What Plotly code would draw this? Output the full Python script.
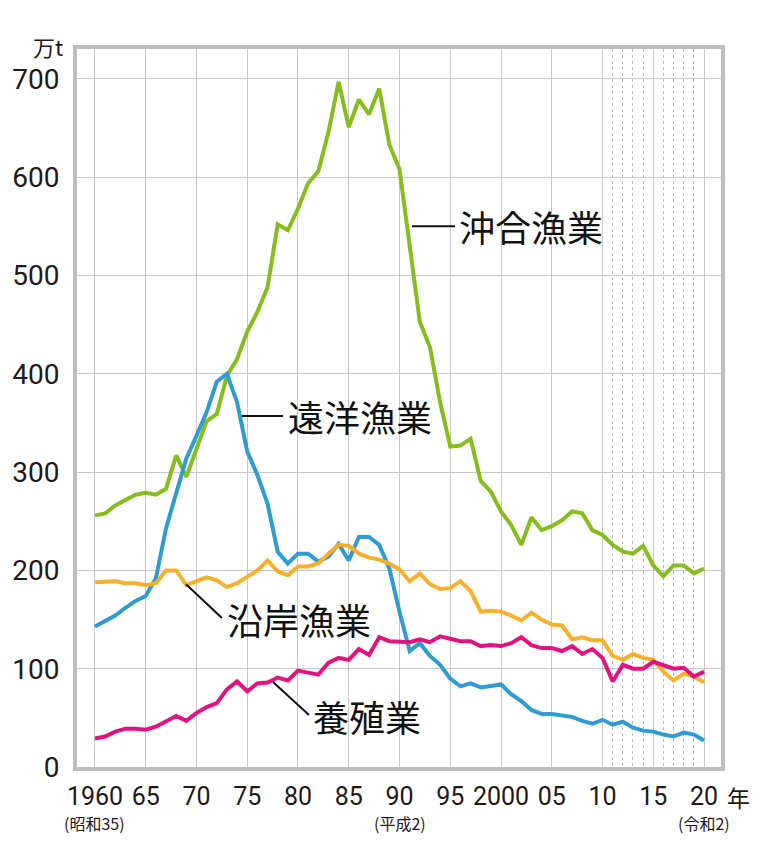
import plotly.graph_objects as go

years = list(range(1960, 2021))

# 沖合漁業 (万t)
offshore = [
    256, 258, 266, 272, 277, 279, 277, 283, 317, 295,
    324, 352, 359, 398, 415, 443, 463, 488, 552, 546,
    568, 594, 606, 646, 697, 651, 679, 664, 690, 633,
    608, 530, 453, 427, 371, 326, 327, 334, 291, 280,
    260, 246, 226, 254, 241, 245, 251, 260, 258, 241,
    236, 226, 219, 217, 225, 205, 194, 205, 205, 197,
    202,
]
# 遠洋漁業
distant = [
    143, 149, 154, 162, 169, 174, 192, 243, 280, 314,
    337, 361, 392, 400, 371, 321, 297, 268, 219, 207,
    217, 217, 209, 214, 227, 210, 234, 234, 226, 202,
    158, 118, 126, 113, 104, 90, 82, 85, 81, 83,
    84, 74, 67, 58, 54, 54, 52, 51, 47, 44,
    48, 43, 46, 40, 37, 36, 33, 31, 35, 33,
    27,
]
# 沿岸漁業
coastal = [
    188, 188, 189, 187, 187, 185, 187, 200, 200, 185,
    189, 193, 190, 183, 187, 194, 200, 210, 199, 195,
    204, 204, 207, 217, 226, 225, 217, 213, 211, 207,
    201, 189, 197, 186, 181, 182, 189, 179, 158, 159,
    158, 154, 149, 157, 150, 145, 144, 130, 132, 129,
    129, 113, 109, 115, 111, 109, 97, 88, 95, 92,
    86,
]
# 養殖業
aquaculture = [
    29, 31, 36, 39, 39, 38, 41, 47, 52, 47,
    55, 61, 65, 79, 87, 77, 85, 86, 91, 88,
    98, 96, 94, 106, 111, 109, 120, 114, 132, 128,
    127, 127, 130, 127, 133, 130, 128, 128, 123, 124,
    123, 126, 132, 124, 121, 121, 118, 123, 115, 120,
    111, 87, 104, 100, 100, 107, 104, 100, 101, 92,
    97,
]

series = [
    ("沖合漁業", offshore, "#86bd1e"),
    ("遠洋漁業", distant, "#2f9bd3"),
    ("沿岸漁業", coastal, "#f6b02c"),
    ("養殖業", aquaculture, "#e2127e"),
]

x_ticks = [1960, 1965, 1970, 1975, 1980, 1985, 1990, 1995, 2000, 2005, 2010, 2015, 2020]
x_text = ["1960", "65", "70", "75", "80", "85", "90", "95", "2000", "05", "10", "15", "20"]
era_labels = [(1960, "(昭和35)"), (1990, "(平成2)"), (2020, "(令和2)")]

# label text position (left edge) and leader line ends, in data units
labels = [
    ("沖合漁業", 1995.7, 550, (1991.23, 550, 1995.47, 550)),
    ("遠洋漁業", 1978.85, 357, (1974.48, 357, 1978.52, 357)),
    ("沿岸漁業", 1972.8, 151, (1968.97, 186, 1972.51, 151.5)),
    ("養殖業", 1981.3, 52, (1977.54, 86.5, 1981.08, 53)),
]

num_font = "Roboto, sans-serif"
jp_font = "Noto Sans CJK JP, sans-serif"
ink = "#231815"

fig = go.Figure()
for name, vals, color in series:
    fig.add_trace(
        go.Scatter(
            x=years,
            y=vals,
            mode="lines",
            name=name,
            line=dict(color=color, width=4),
        )
    )

for name, tx, ty, (x0, y0, x1, y1) in labels:
    fig.add_shape(
        type="line", x0=x0, y0=y0, x1=x1, y1=y1,
        xref="x", yref="y", line=dict(color="#111111", width=2),
    )
    fig.add_annotation(
        x=tx, y=ty, xref="x", yref="y", text=name, showarrow=False,
        xanchor="left", yanchor="middle",
        font=dict(family=jp_font, size=36, color="#111111"),
    )

for yr, txt in era_labels:
    fig.add_annotation(
        x=yr, y=-0.078, xref="x", yref="paper", text=txt, showarrow=False,
        xanchor="center", yanchor="middle",
        font=dict(family=jp_font, size=16, color=ink),
    )

fig.add_annotation(
    x=1, y=-0.042, xref="paper", yref="paper", text="年", showarrow=False,
    xanchor="left", yanchor="middle", xshift=4,
    font=dict(family=jp_font, size=23, color=ink),
)
fig.add_annotation(
    x=0, y=1.004, xref="paper", yref="paper", text="万t", showarrow=False,
    xanchor="right", yanchor="middle", xshift=-12,
    font=dict(family=jp_font, size=22, color=ink),
)

fig.update_xaxes(
    range=[1958.23, 2021.67],
    tickvals=x_ticks,
    ticktext=x_text,
    tickangle=0,
    tickfont=dict(family=num_font, size=25, color=ink),
    showgrid=True,
    gridcolor="#c8c8c8",
    gridwidth=1.3,
    minor=dict(
        tickvals=[2011, 2012, 2013, 2014, 2016, 2017, 2018, 2019],
        showgrid=True,
        gridcolor="#b8b8b8",
        gridwidth=1,
        griddash="dot",
    ),
    showline=True,
    mirror=True,
    linecolor="#bdbdbd",
    linewidth=4,
    zeroline=False,
    ticks="",
    ticklabelstandoff=4,
    automargin=False,
)
fig.update_yaxes(
    range=[0, 730.4],
    tickvals=[0, 100, 200, 300, 400, 500, 600, 700],
    tickfont=dict(family=num_font, size=28, color=ink),
    showgrid=True,
    gridcolor="#c8c8c8",
    gridwidth=1.3,
    showline=True,
    mirror=True,
    linecolor="#bdbdbd",
    linewidth=4,
    zeroline=False,
    ticks="",
    ticklabelstandoff=8,
    automargin=False,
)

# page body adds an 8px margin, so the figure is sized to fit inside the window
fig.update_layout(
    width=760,
    height=858,
    margin=dict(l=69, r=47, t=41, b=99),
    paper_bgcolor="white",
    plot_bgcolor="white",
    showlegend=False,
)

fig.write_html("out.html")
